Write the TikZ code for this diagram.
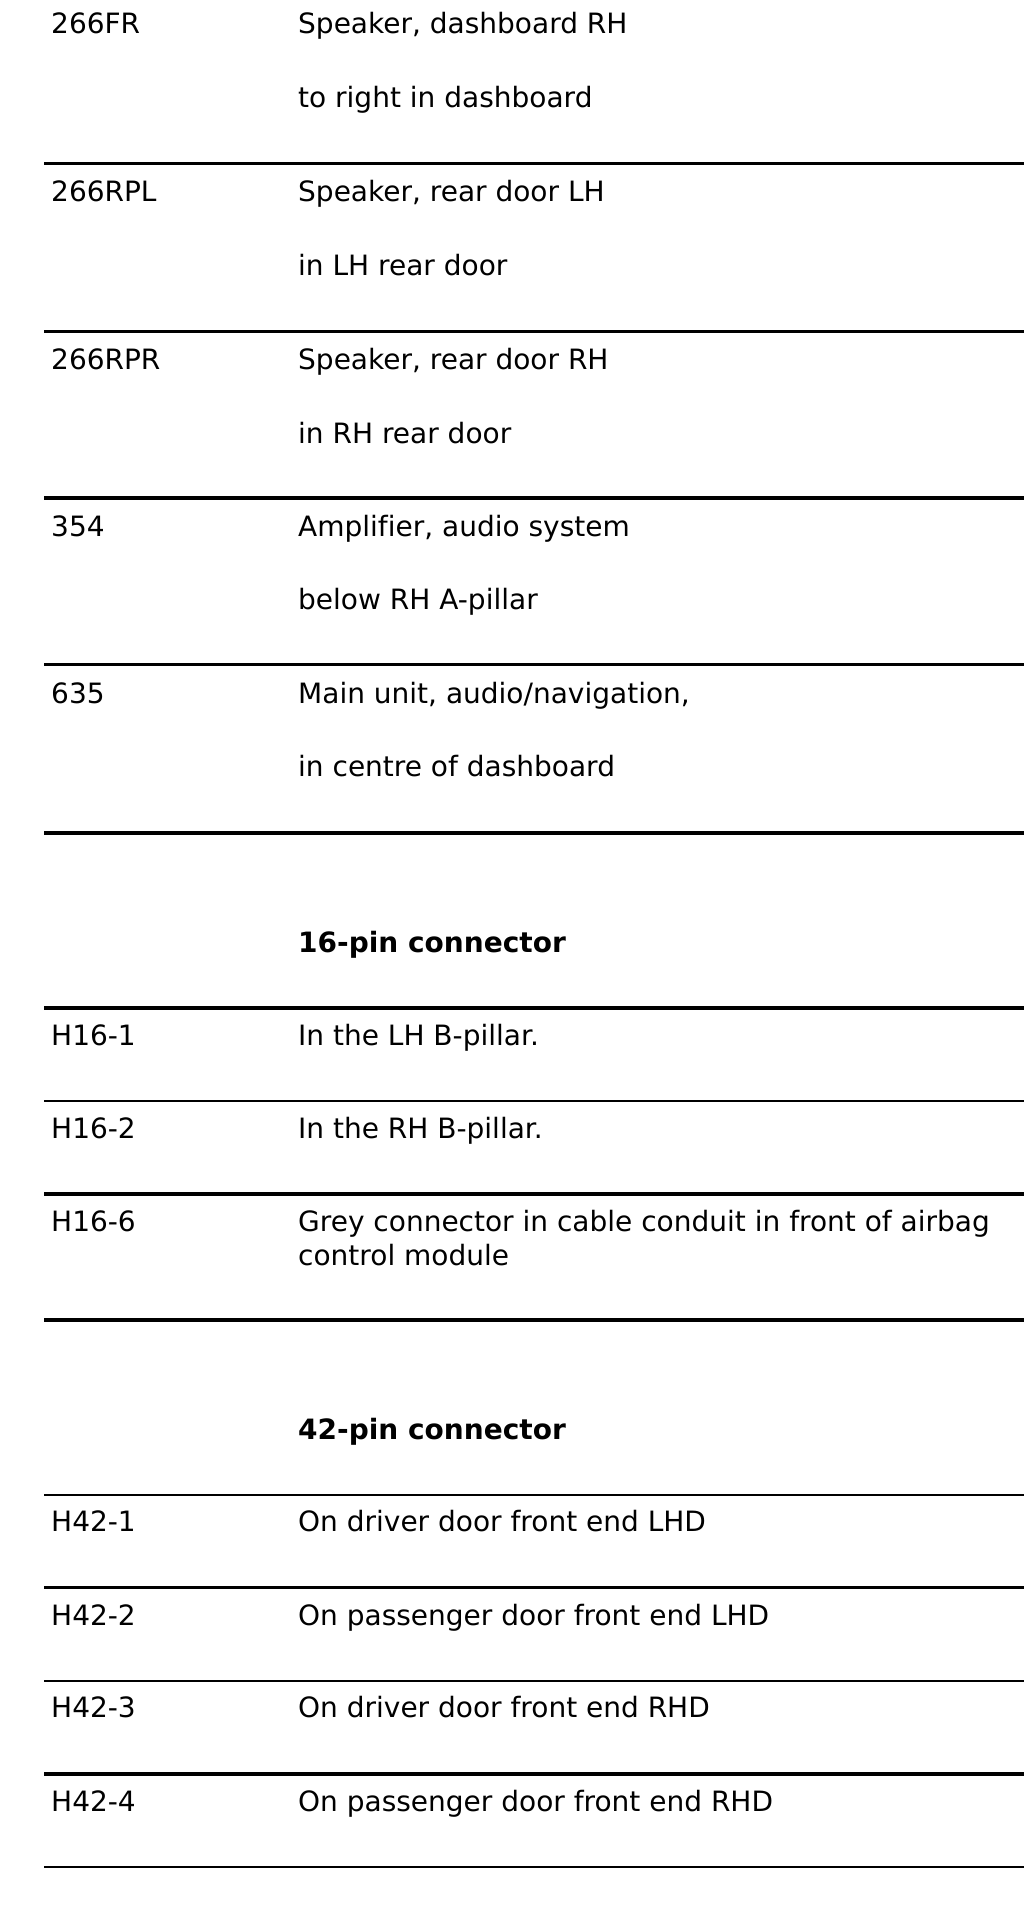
\documentclass[tikz,border=0pt]{standalone}
\usepackage{fontspec}
\setmainfont[Ligatures=NoCommon]{DejaVu Sans}
\begin{document}
\begin{tikzpicture}[x=1pt,y=-1pt,
  txt/.style={anchor=base west,inner sep=0pt,font=\fontsize{28}{33.6}\selectfont},
  hdr/.style={txt,font=\fontsize{28}{33.6}\selectfont\bfseries},
  thickrule/.style={line width=3.7pt},
  thinrule/.style={line width=2.2pt}]
\useasboundingbox (0,0) rectangle (1024,1912);
% column positions
\def\ca{51}
\def\cb{298}
% block 1
\node[txt] (c1) at (\ca,33.5) {266FR};
\node[txt] (d1a) at (\cb,33.5) {Speaker, dashboard RH};
\node[txt] (d1b) at (\cb,107.5) {to right in dashboard};
\draw[thickrule] (44,163.5) -- (1024,163.5);
\node[txt] (c2) at (\ca,201.5) {266RPL};
\node[txt] (d2a) at (\cb,201.5) {Speaker, rear door LH};
\node[txt] (d2b) at (\cb,275) {in LH rear door};
\draw[thickrule] (44,331.5) -- (1024,331.5);
\node[txt] (c3) at (\ca,369.5) {266RPR};
\node[txt] (d3a) at (\cb,369.5) {Speaker, rear door RH};
\node[txt] (d3b) at (\cb,443) {in RH rear door};
\draw[thickrule] (44,498) -- (1024,498);
\node[txt] (c4) at (\ca,536.5) {354};
\node[txt] (d4a) at (\cb,536.5) {Amplifier, audio system};
\node[txt] (d4b) at (\cb,609.5) {below RH A-pillar};
\draw[thickrule] (44,664.5) -- (1024,664.5);
\node[txt] (c5) at (\ca,703) {635};
\node[txt] (d5a) at (\cb,703) {Main unit, audio/navigation,};
\node[txt] (d5b) at (\cb,776.5) {in centre of dashboard};
\draw[thickrule] (44,833) -- (1024,833);
% 16-pin
\node[hdr] (h16) at (\cb,952.7) {16-pin connector};
\draw[thickrule] (44,1008) -- (1024,1008);
\node[txt] (e1) at (\ca,1045.5) {H16-1};
\node[txt] (f1) at (\cb,1045.5) {In the LH B-pillar.};
\draw[thinrule] (44,1101) -- (1024,1101);
\node[txt] (e2) at (\ca,1138.5) {H16-2};
\node[txt] (f2) at (\cb,1138.5) {In the RH B-pillar.};
\draw[thickrule] (44,1194) -- (1024,1194);
\node[txt] (e6) at (\ca,1231.5) {H16-6};
\node[txt] (f6a) at (\cb,1231.5) {Grey connector in cable conduit in front of airbag};
\node[txt] (f6b) at (\cb,1265) {control module};
\draw[thickrule] (44,1320) -- (1024,1320);
% 42-pin
\node[hdr] (h42) at (\cb,1439.3) {42-pin connector};
\draw[thinrule] (44,1494.8) -- (1024,1494.8);
\node[txt] (g1) at (\ca,1531) {H42-1};
\node[txt] (k1) at (\cb,1531) {On driver door front end LHD};
\draw[thickrule] (44,1587.5) -- (1024,1587.5);
\node[txt] (g2) at (\ca,1625) {H42-2};
\node[txt] (k2) at (\cb,1625) {On passenger door front end LHD};
\draw[thinrule] (44,1681) -- (1024,1681);
\node[txt] (g3) at (\ca,1717.7) {H42-3};
\node[txt] (k3) at (\cb,1717.7) {On driver door front end RHD};
\draw[thickrule] (44,1773.7) -- (1024,1773.7);
\node[txt] (g4) at (\ca,1811) {H42-4};
\node[txt] (k4) at (\cb,1811) {On passenger door front end RHD};
\draw[thinrule] (44,1867) -- (1024,1867);
\end{tikzpicture}
\end{document}
